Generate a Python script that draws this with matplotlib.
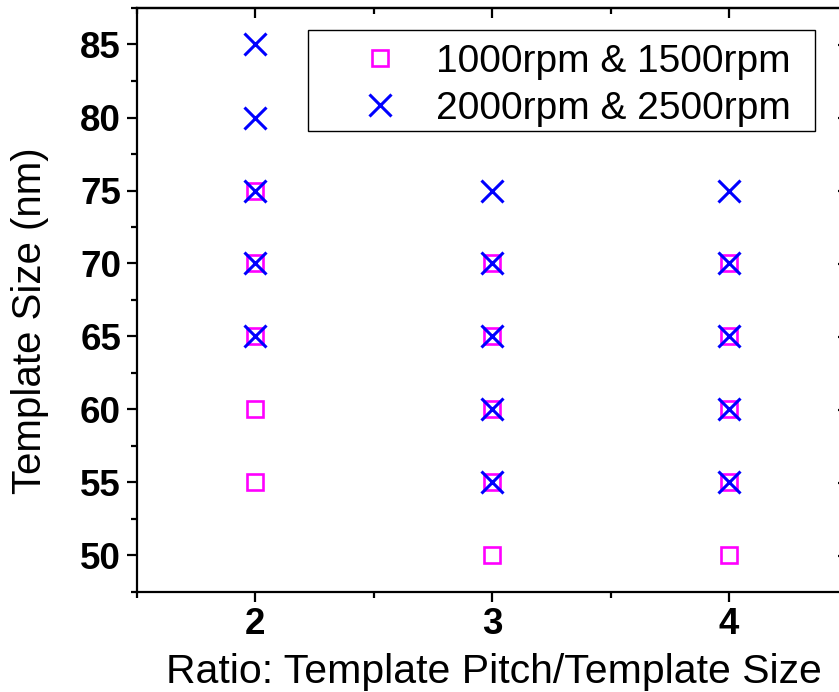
import matplotlib
matplotlib.use("Agg")
import matplotlib.pyplot as plt
from matplotlib.ticker import MultipleLocator
from matplotlib.patches import Rectangle

plt.rcParams['font.family'] = ['Liberation Sans', 'DejaVu Sans']

# Data
low_x = [2, 2, 2, 2, 2, 3, 3, 3, 3, 3, 4, 4, 4, 4, 4]
low_y = [55, 60, 65, 70, 75, 50, 55, 60, 65, 70, 50, 55, 60, 65, 70]
high_x = [2, 2, 2, 2, 2, 3, 3, 3, 3, 3, 4, 4, 4, 4, 4]
high_y = [65, 70, 75, 80, 85, 55, 60, 65, 70, 75, 55, 60, 65, 70, 75]
labels = ["1000rpm & 1500rpm", "2000rpm & 2500rpm"]
xticks = [2, 3, 4]
yticks = [50, 55, 60, 65, 70, 75, 80, 85]

W, H = 839, 692
fig = plt.figure(figsize=(W/100, H/100), dpi=100)
ax = fig.add_axes([137/W, 100/H, (847.5-137)/W, (592-8)/H])

ax.plot(low_x, low_y, linestyle='none', marker='s', markersize=11.5,
        markerfacecolor='none', markeredgecolor='#FF00FF', markeredgewidth=1.9,
        label=labels[0], zorder=3)
ax.plot(high_x, high_y, linestyle='none', marker='x', markersize=16,
        markeredgecolor='#0000FF', markeredgewidth=2.2, label=labels[1], zorder=4)

ax.set_xlim(1.5, 4.5)
ax.set_ylim(47.5, 87.5)
ax.set_xticks(xticks)
ax.set_yticks(yticks)
ax.xaxis.set_minor_locator(MultipleLocator(0.5))
ax.yaxis.set_minor_locator(MultipleLocator(2.5))

for s in ax.spines.values():
    s.set_linewidth(1.6)

ax.tick_params(which='both', direction='out', width=1.6, labelsize=26.5, top=False, right=False)
ax.tick_params(which='major', length=7.5)
ax.tick_params(axis='x', which='major', pad=3)
ax.tick_params(axis='y', which='major', pad=4)
ax.tick_params(which='minor', length=4)
for lab in ax.get_xticklabels() + ax.get_yticklabels():
    lab.set_fontweight('bold')

secx = ax.secondary_xaxis('top')
secx.set_xticks(xticks)
secx.xaxis.set_minor_locator(MultipleLocator(0.5))
secx.tick_params(which='both', direction='in', width=1.6, labeltop=False)
secx.tick_params(which='major', length=7.5)
secx.tick_params(which='minor', length=4)
secx.spines['top'].set_linewidth(1.6)

secy = ax.secondary_yaxis('right')
secy.set_yticks(yticks)
secy.yaxis.set_minor_locator(MultipleLocator(2.5))
secy.tick_params(which='both', direction='in', width=1.6, labelright=False)
secy.tick_params(which='major', length=7.5)
secy.tick_params(which='minor', length=4)

fig.text(493.5/W, (H-683)/H, "Ratio: Template Pitch/Template Size", fontsize=29.5,
         ha='center', va='baseline')
fig.text(30/W, (H-321)/H, "Template Size (nm)", fontsize=29, rotation=90,
         ha='center', va='center')

# legend frame drawn separately so the entries can sit slightly lower inside it
frame = Rectangle((308/W, (H-131)/H), 507/W, 101/H, transform=fig.transFigure,
                  facecolor='white', edgecolor='black', linewidth=1.0, zorder=5)
ax.add_artist(frame)
frame.set_clip_on(False)

leg = ax.legend(loc='upper left', bbox_to_anchor=(308/W, (H-36)/H, 507/W, 0.0),
                bbox_transform=fig.transFigure, borderaxespad=0, mode='expand',
                fontsize=28, frameon=False, handletextpad=-0.2, borderpad=0.2,
                labelspacing=0.29, handlelength=3.3)
leg.set_zorder(6)

fig.savefig("out.png", dpi=100)
